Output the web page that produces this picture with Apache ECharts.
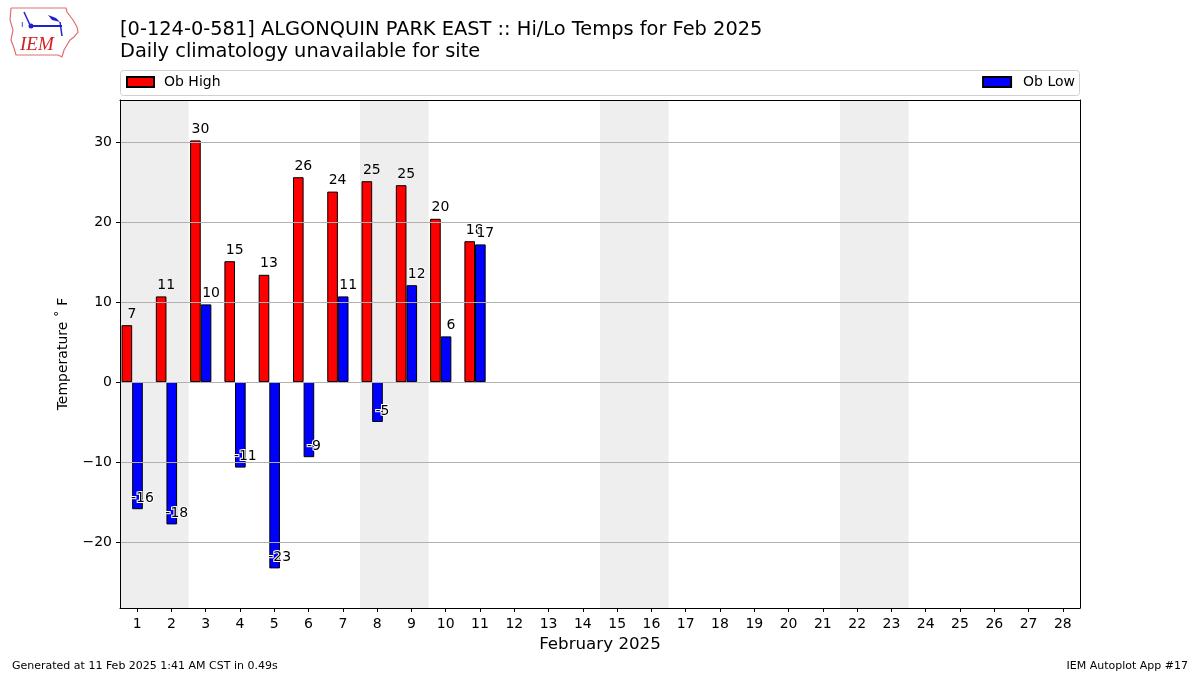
<!DOCTYPE html>
<html>
<head>
<meta charset="utf-8">
<script src="https://cdn.jsdelivr.net/npm/echarts@6/dist/echarts.min.js"></script>
<style>
html,body{margin:0;padding:0;background:#fff;}
#chart{width:1200px;height:675px;}
</style>
</head>
<body>
<div id="chart"></div>
<script>
// ---- data ----
const days = ['1','2','3','4','5','6','7','8','9','10','11','12','13','14','15','16','17','18','19','20','21','22','23','24','25','26','27','28'];
const obHigh = [7.1, 10.7, 30.2, 15.1, 13.4, 25.6, 23.8, 25.1, 24.6, 20.4, 17.6];
const obLow = [-15.9, -17.8, 9.7, -10.7, -23.3, -9.4, 10.7, -5.0, 12.1, 5.7, 17.2];
const weekendStart = [1, 8, 15, 22];
const weekendEnd = [2, 9, 16, 23];
const yTicks = [-20, -10, 0, 10, 20, 30];

const FONT = 'DejaVu Sans';
const chart = echarts.init(document.getElementById('chart'), null, {renderer: 'canvas'});

const weekendAreas = weekendStart.map((s, i) => [{xAxis: s - 0.5}, {xAxis: weekendEnd[i] + 0.5}]);

const lowData = obLow.map(v => ({
  value: v,
  label: {position: v < 0 ? 'insideBottom' : 'top'}
}));

const labelFmt = p => String(Math.round(p.value));
const frameLine = {show: true, onZero: false, lineStyle: {color: '#000', width: 1}};

const option = {
  backgroundColor: '#ffffff',
  animation: false,
  textStyle: {fontFamily: FONT},
  grid: {left: 120, right: 120, top: 100, bottom: 67, show: false},
  legend: [
    {data: ['Ob High'], left: 121, top: 70, itemWidth: 27, itemHeight: 10, icon: 'rect',
     textStyle: {fontFamily: FONT, fontSize: 14, color: '#000', padding: [0, 0, 0, 5]}, selectedMode: false},
    {data: ['Ob Low'], right: 120, top: 70, itemWidth: 28, itemHeight: 10, icon: 'rect',
     textStyle: {fontFamily: FONT, fontSize: 14, color: '#000', padding: [0, 0, 0, 7]}, selectedMode: false}
  ],
  xAxis: [
    {type: 'category', data: days, z: 3, position: 'bottom',
     name: 'February 2025', nameLocation: 'middle', nameGap: 28,
     nameTextStyle: {fontFamily: FONT, fontSize: 16.7, color: '#000'},
     axisLine: frameLine,
     axisTick: {show: true, alignWithLabel: true, length: 4, lineStyle: {color: '#000'}},
     axisLabel: {fontFamily: FONT, fontSize: 14, color: '#000', margin: 9, interval: 0},
     splitLine: {show: false}},
    {type: 'value', min: 0.5, max: 28.5, show: false},
    {type: 'category', data: days, z: 3, position: 'top',
     axisLine: frameLine, axisTick: {show: false}, axisLabel: {show: false}, splitLine: {show: false}}
  ],
  yAxis: [
    {type: 'value', min: -28.25, max: 35.25, splitNumber: 6, z: 3, position: 'left',
     name: 'Temperature \u02da F', nameLocation: 'middle', nameGap: 50,
     nameTextStyle: {fontFamily: FONT, fontSize: 14, color: '#000'},
     axisLine: frameLine,
     axisTick: {show: true, length: 4, lineStyle: {color: '#000'}},
     axisLabel: {fontFamily: FONT, fontSize: 14, color: '#000', margin: 8,
       showMinLabel: false, showMaxLabel: false,
       formatter: v => yTicks.indexOf(v) >= 0 ? String(v).replace('-', '\u2212') : ''},
     splitLine: {show: true, lineStyle: {color: '#b0b0b0', width: 1}}},
    {type: 'value', min: -28.25, max: 35.25, z: 3, position: 'right',
     axisLine: frameLine, axisTick: {show: false}, axisLabel: {show: false}, splitLine: {show: false}}
  ],
  series: [
    {name: 'weekend', type: 'line', xAxisIndex: 1, yAxisIndex: 0, data: [], z: -1, silent: true,
     markArea: {silent: true, itemStyle: {color: '#eeeeee'}, data: weekendAreas}},
    {name: 'Ob High', type: 'bar', xAxisIndex: 0, yAxisIndex: 0, data: obHigh, barWidth: '31%', barGap: '0%',
     itemStyle: {color: '#ff0000', borderColor: '#000', borderWidth: 1},
     label: {show: true, position: 'top', distance: 4, offset: [5, 0], formatter: labelFmt,
       fontFamily: FONT, fontSize: 14, color: '#000'}},
    {name: 'Ob Low', type: 'bar', xAxisIndex: 0, yAxisIndex: 0, data: lowData, barWidth: '31%', barGap: '0%',
     itemStyle: {color: '#0000ff', borderColor: '#000', borderWidth: 1},
     label: {show: true, distance: 4, offset: [5, 0], formatter: labelFmt,
       fontFamily: FONT, fontSize: 14, color: '#000', textBorderColor: '#fff', textBorderWidth: 2}},
    {name: 'spacer', type: 'bar', xAxisIndex: 0, yAxisIndex: 0, data: days.map(() => null), barWidth: '29%', barGap: '0%', silent: true}
  ],
  graphic: [
    {type: 'rect', z: -10, shape: {x: 120.5, y: 70.5, width: 959, height: 25, r: 3},
     style: {fill: '#fff', stroke: '#d0d0d0', lineWidth: 1}},
    {type: 'text', left: 120, top: 20, style: {text: '[0-124-0-581] ALGONQUIN PARK EAST :: Hi/Lo Temps for Feb 2025',
      font: '19.4px "DejaVu Sans"', fill: '#000'}},
    {type: 'text', left: 120, top: 42, style: {text: 'Daily climatology unavailable for site',
      font: '19.4px "DejaVu Sans"', fill: '#000'}},
    {type: 'text', left: 12, top: 661, style: {text: 'Generated at 11 Feb 2025 1:41 AM CST in 0.49s',
      font: '11px "DejaVu Sans"', fill: '#000'}},
    {type: 'text', right: 12, top: 661, style: {text: 'IEM Autoplot App #17',
      font: '11px "DejaVu Sans"', fill: '#000'}},
    // IEM logo (approximation)
    {type: 'polyline', shape: {points: [[11,8],[66,8],[67,12],[70,16],[73,20],[77,27],[78,32],[74,37],[70,40],[67,45],[64,50],[62,57],[58,55],[16,55],[14,48],[11,40],[13,30],[10,20],[11,8]]},
     style: {stroke: '#e07070', lineWidth: 1.2, fill: 'none'}},
    {type: 'text', left: 20, top: 35, style: {text: 'IEM', font: 'italic 19px "Liberation Serif"', fill: '#d02020'}},
    {type: 'line', shape: {x1: 30, y1: 26, x2: 62, y2: 26}, style: {stroke: '#2020d0', lineWidth: 2}},
    {type: 'circle', shape: {cx: 31, cy: 26, r: 2.5}, style: {fill: '#2020d0'}},
    {type: 'line', shape: {x1: 24, y1: 12, x2: 30, y2: 25}, style: {stroke: '#2020d0', lineWidth: 1.5}},
    {type: 'polygon', shape: {points: [[48,15],[56,18],[60,22],[52,20]]}, style: {fill: '#2020d0'}},
    {type: 'line', shape: {x1: 60, y1: 22, x2: 62, y2: 36}, style: {stroke: '#2020d0', lineWidth: 1.5}},
    {type: 'text', left: 21, top: 20, style: {text: 'ı', font: '9px "DejaVu Sans"', fill: '#2020d0'}}
  ]
};
chart.setOption(option);
</script>
</body>
</html>
